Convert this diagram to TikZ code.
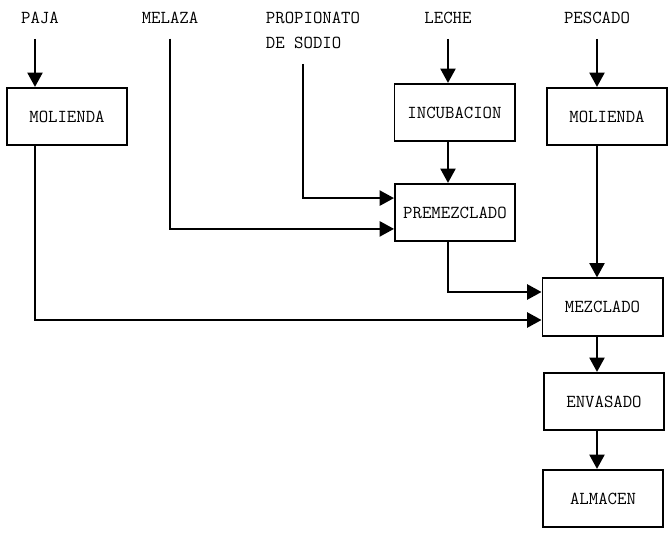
\documentclass[tikz,border=0pt]{standalone}
\usepackage{fontspec}
\usetikzlibrary{arrows.meta, positioning}
\newcommand{\flowfont}{\ttfamily\fontsize{13}{17.7}\selectfont}

\begin{document}
\begin{tikzpicture}[x=0.025cm, y=-0.025cm, >=Triangle]
\tikzset{
  stage/.style={draw, line width=1.4pt, minimum width=3cm, minimum height=1.43cm, inner sep=0pt, font=\flowfont},
  feed/.style={inner sep=0pt, outer ysep=0.375cm, font=\flowfont},
  flow/.style={line width=1.4pt, -{Triangle[width=0.38cm, length=0.36cm]}}
}
\useasboundingbox (0,0) rectangle (672,538);

% raw materials
\node[feed] (paja) at (40,18) {PAJA};
\node[feed] (melaza) at (170,18) {MELAZA};
\node[feed, align=left] (propio) at (313,30.5) {PROPIONATO\\DE SODIO};
\node[feed] (leche) at (448,18) {LECHE};
\node[feed] (pescado) at (597,18) {PESCADO};

% process stages
\node[stage] (molpaja) at (67,116.5) {MOLIENDA};
\node[stage] (incub) at (454.5,112.5) {INCUBACION};
\node[stage] (molpesc) at (607,116.5) {MOLIENDA};
\node[stage] (premez) at (455,212.5) {PREMEZCLADO};
\node[stage] (mezcla) at (602.5,307) {MEZCLADO};
\node[stage] (envase) at (604,401.5) {ENVASADO};
\node[stage] (almacen) at (603,498.5) {ALMACEN};

% straw line
\draw[flow] ([xshift=-0.125cm]paja.south) -- ([xshift=-0.125cm]paja.south |- molpaja.north);
\draw[flow] ([xshift=-0.125cm]paja.south |- molpaja.south) |- ([yshift=-0.325cm]mezcla.west);

% premix inputs
\draw[flow] (melaza.south) |- ([yshift=-0.41cm]premez.west);
\draw[flow] ([xshift=-0.25cm]propio.south) |- ([yshift=0.36cm]premez.west);
\draw[flow] (leche.south) -- (leche.south |- incub.north);
\draw[flow] (leche.south |- incub.south) -- (leche.south |- premez.north);
\draw[flow] (leche.south |- premez.south) |- ([yshift=0.375cm]mezcla.west);

% fish line and final steps
\draw[flow] (pescado.south) -- (pescado.south |- molpesc.north);
\draw[flow] (pescado.south |- molpesc.south) -- (pescado.south |- mezcla.north);
\draw[flow] (pescado.south |- mezcla.south) -- (pescado.south |- envase.north);
\draw[flow] (pescado.south |- envase.south) -- (pescado.south |- almacen.north);

\end{tikzpicture}
\end{document}
